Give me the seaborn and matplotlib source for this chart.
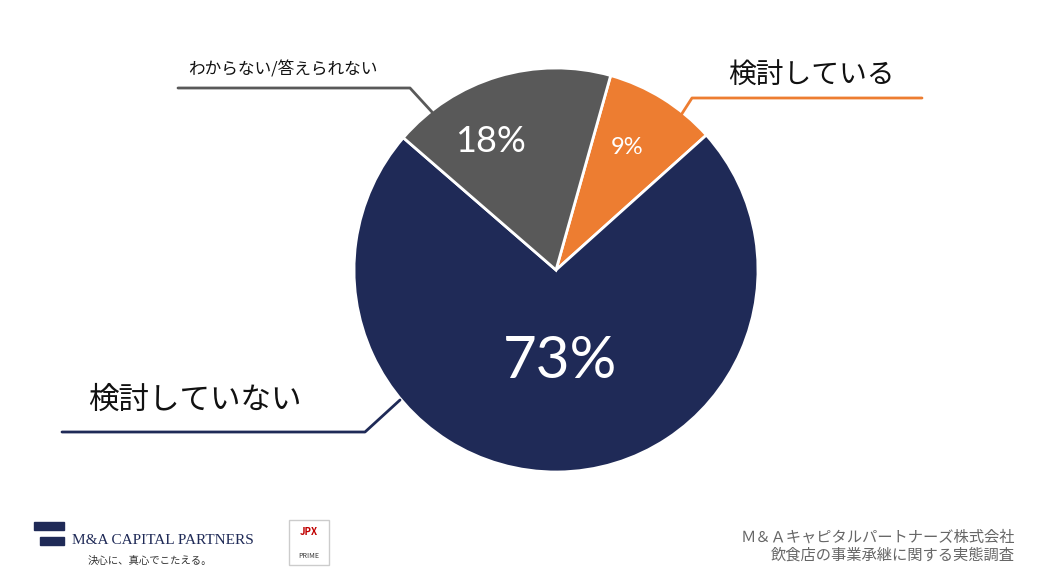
import matplotlib
matplotlib.use("Agg")
import matplotlib.pyplot as plt
import seaborn as sns
from matplotlib.lines import Line2D
from matplotlib.patches import Rectangle

sns.set_theme(style="white")
plt.rcParams["font.family"] = "Noto Sans CJK JP"

labels = ["検討している", "検討していない", "わからない/答えられない"]
values = [9, 73, 18]
colors = ["#ED7D31", "#1F2A57", "#595959"]

W, H = 1040, 585
fig = plt.figure(figsize=(10.4, 5.85), dpi=100)
cx, cy, r = 556, 270, 202
ax = fig.add_axes([(cx - r) / W, (H - cy - r) / H, 2 * r / W, 2 * r / H])
wedges, texts = ax.pie(values, colors=colors, startangle=74.3, counterclock=False,
                       wedgeprops=dict(edgecolor="white", linewidth=2))
ax.set_aspect("equal")
ax.set_xlim(-1, 1); ax.set_ylim(-1, 1)

def P(x, y):
    return x / W, 1 - y / H

# percentage labels
for (x, y), v, fs in [((627, 147), values[0], 17), ((490, 142), values[2], 26), ((560, 362), values[1], 42)]:
    fig.text(*P(x, y), f"{v}%", color="white", fontsize=fs, ha="center", va="center", fontfamily="Lato")

def line(pts, c):
    xs = [p[0] / W for p in pts]; ys = [1 - p[1] / H for p in pts]
    fig.add_artist(Line2D(xs, ys, color=c, lw=2, transform=fig.transFigure))

line([(665, 140), (692, 98), (922, 98)], colors[0])
line([(432, 112), (410, 88), (178, 88)], colors[2])
line([(400, 400), (365, 432), (62, 432)], colors[1])

fig.text(*P(728, 76), labels[0], fontsize=20, ha="left", va="center", color="#111")
fig.text(*P(188, 70), labels[2], fontsize=12, ha="left", va="center", color="#111")
fig.text(*P(88, 400), labels[1], fontsize=22, ha="left", va="center", color="#111")

fig.text(*P(1015, 537), "Ｍ＆Ａキャピタルパートナーズ株式会社", fontsize=11, ha="right", va="center", color="#666")
fig.text(*P(1015, 555), "飲食店の事業承継に関する実態調査", fontsize=11, ha="right", va="center", color="#666")

# logo approximations
fig.add_artist(Rectangle(P(34, 530), 30 / W, 8 / H, transform=fig.transFigure, color="#1F2A57"))
fig.add_artist(Rectangle(P(40, 545), 24 / W, 8 / H, transform=fig.transFigure, color="#1F2A57"))
fig.text(*P(72, 540), "M&A CAPITAL PARTNERS", fontsize=11, fontfamily="Liberation Serif", color="#1F2A57", va="center")
fig.text(*P(88, 561), "決心に、真心でこたえる。", fontsize=7.5, color="#333", va="center")
fig.add_artist(Rectangle(P(289, 565), 40 / W, 45 / H, transform=fig.transFigure, facecolor="white", edgecolor="#ccc"))
fig.text(*P(309, 532), "JPX", fontsize=7, color="#C00000", ha="center", va="center", fontweight="bold")
fig.text(*P(309, 556), "PRIME", fontsize=5, color="#333", ha="center", va="center")

fig.savefig("out.png", dpi=100, facecolor="white")
